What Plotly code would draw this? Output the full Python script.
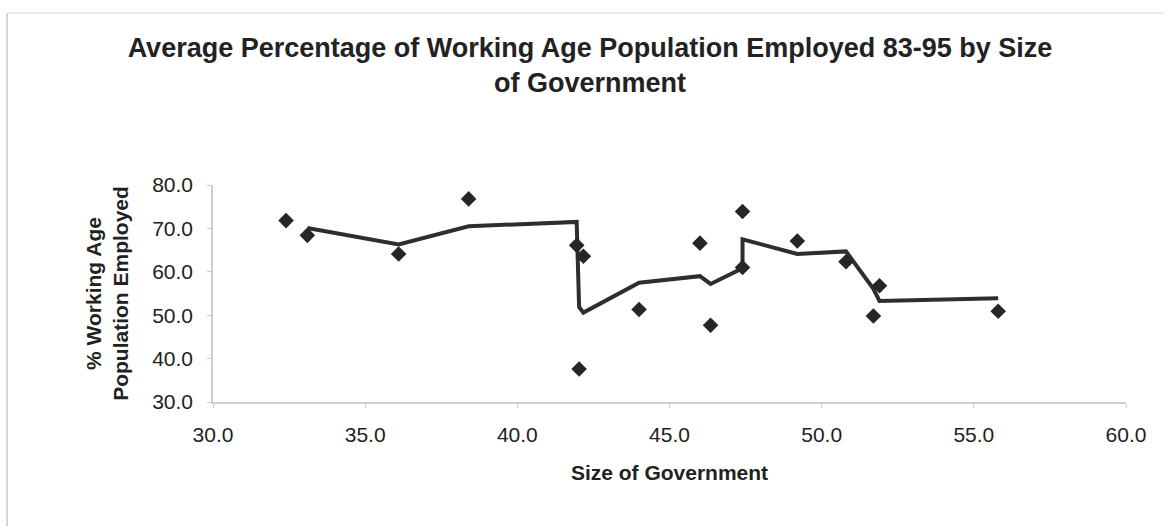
import plotly.graph_objects as go

# Size of government (x) vs average % of working-age population employed 1983-95 (y)
gov_size = [32.4, 33.1, 36.1, 38.4, 41.95, 42.03, 42.17, 44.0, 46.0, 46.35,
            47.4, 47.4, 49.2, 50.8, 51.7, 51.9, 55.8]
employed = [71.8, 68.4, 64.1, 76.8, 66.1, 37.6, 63.6, 51.3, 66.6, 47.7,
            73.9, 61.0, 67.1, 62.3, 49.8, 56.8, 50.9]

# 2-period moving-average trendline
trend_x = [33.1, 36.1, 38.4, 41.95, 42.03, 42.17, 44.0, 46.0, 46.35,
           47.4, 47.4, 49.2, 50.8, 51.7, 51.9, 55.8]
trend_y = [70.1, 66.3, 70.5, 71.5, 51.9, 50.6, 57.5, 59.0, 57.2,
           60.8, 67.5, 64.1, 64.7, 56.1, 53.3, 53.9]

x_ticks = [30, 35, 40, 45, 50, 55, 60]
y_ticks = [30, 40, 50, 60, 70, 80]

FONT = "Liberation Sans, Arial, sans-serif"
TEXT = "#222222"
AXIS = "#cdcdcd"

fig = go.Figure()
fig.add_trace(go.Scatter(
    x=trend_x, y=trend_y, mode="lines",
    line=dict(color="#2e2e2e", width=4),
    hoverinfo="skip", showlegend=False,
))
fig.add_trace(go.Scatter(
    x=gov_size, y=employed, mode="markers",
    marker=dict(symbol="diamond", size=12, color="#262626"),
    showlegend=False,
))

fig.update_layout(
    width=1164, height=526,
    paper_bgcolor="white", plot_bgcolor="white",
    margin=dict(l=213, r=38, t=185, b=124),
    font=dict(family=FONT, color=TEXT, size=21),
    title=dict(
        text="<b>Average Percentage of Working Age Population Employed 83-95 by Size<br>of Government</b>",
        font=dict(family=FONT, size=27, color=TEXT),
        xref="container", yref="container",
        x=590 / 1164, xanchor="center",
        y=1 - 57 / 526, yanchor="middle",
    ),
    xaxis=dict(
        range=[30, 60], tickvals=x_ticks, tickformat=".1f",
        showgrid=False, zeroline=False,
        showline=True, linecolor=AXIS, linewidth=1.5,
        ticks="outside", ticklen=4, tickcolor=AXIS,
        tickfont=dict(size=21, color=TEXT),
        ticklabelstandoff=9,
        title=dict(text="<b>Size of Government</b>", font=dict(size=21, color=TEXT), standoff=20),
    ),
    yaxis=dict(
        range=[30, 80], tickvals=y_ticks, tickformat=".1f",
        showgrid=False, zeroline=False,
        showline=True, linecolor=AXIS, linewidth=1.5,
        ticks="outside", ticklen=4, tickcolor=AXIS,
        tickfont=dict(size=21, color=TEXT),
        ticklabelstandoff=10,
        title=dict(text="<b>% Working Age<br>Population Employed</b>", font=dict(size=21, color=TEXT), standoff=18),
    ),
)

# faint outer frame of the chart area (left and top edges)
fig.add_shape(type="line", xref="paper", yref="paper",
              x0=-206 / 913, x1=-206 / 913, y0=(402 - 13) / 217, y1=-1,
              line=dict(color="#d4d4d4", width=2))
fig.add_shape(type="line", xref="paper", yref="paper",
              x0=-206 / 913, x1=1164 / 913, y0=(402 - 13) / 217, y1=(402 - 13) / 217,
              line=dict(color="#ececec", width=2))

fig.write_html("out.html")
